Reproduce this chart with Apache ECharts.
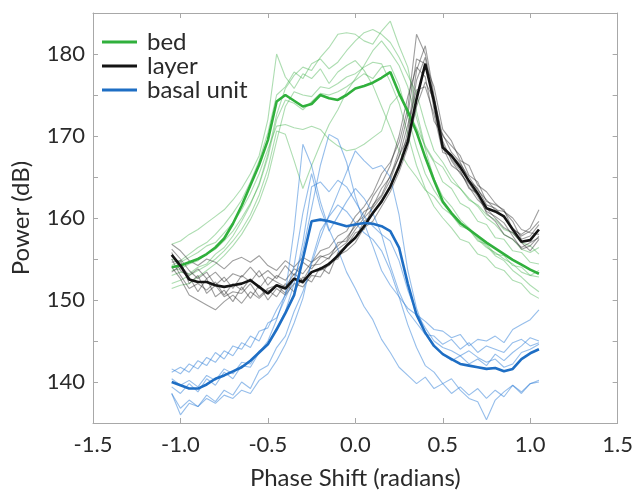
<!DOCTYPE html>
<html>
<head>
<meta charset="utf-8">
<script src="https://cdn.jsdelivr.net/npm/echarts@6/dist/echarts.min.js"></script>
<style>
html,body{margin:0;padding:0;background:#fff;}
#chart{width:636px;height:495px;}
</style>
</head>
<body>
<div id="chart"></div>
<script>
// Phase shift samples (radians)
const phase = [-1.05,-1.0,-0.95,-0.9,-0.85,-0.8,-0.75,-0.7,-0.65,-0.6,-0.55,-0.5,-0.45,-0.4,-0.35,-0.3,-0.25,-0.2,-0.15,-0.1,-0.05,0.0,0.05,0.1,0.15,0.2,0.25,0.3,0.35,0.4,0.45,0.5,0.55,0.6,0.65,0.7,0.75,0.8,0.85,0.9,0.95,1.0,1.05];

// Mean curves (dB)
const bedMean = [154.0,154.2,154.6,155.0,155.6,156.4,157.5,159.3,161.5,164.0,166.5,169.5,174.2,175.0,174.3,173.6,173.9,175.0,174.6,174.4,175.0,175.8,176.1,176.5,177.1,177.8,175.2,173.0,170.5,167.4,164.6,162.0,160.6,159.4,158.6,157.8,157.0,156.3,155.6,154.9,154.3,153.7,153.2];
const layerMean = [155.5,154.2,152.5,152.2,152.2,151.8,151.6,151.8,152.0,152.4,151.6,150.8,151.8,151.4,152.6,152.2,153.4,153.8,154.4,155.4,156.6,157.6,159.0,160.6,162.0,163.8,166.3,169.3,174.5,178.8,174.2,168.6,167.6,166.2,164.5,163.0,161.2,160.8,160.2,158.6,157.1,157.3,158.6];
const basalMean = [140.0,139.6,139.2,139.2,139.7,140.4,140.8,141.3,141.8,142.6,143.6,144.6,146.4,148.4,150.6,155.0,159.6,159.8,159.6,159.3,159.0,159.2,159.4,159.3,159.0,158.4,156.4,152.0,148.2,146.0,144.4,143.4,142.8,142.2,142.0,141.8,141.6,141.7,141.3,141.6,142.8,143.5,144.0];

// Individual bed traces
const bed1 = [156.8,157.2,158.0,158.6,159.4,160.2,161.0,162.2,163.6,165.4,167.6,172.0,180.0,177.2,175.8,177.6,177.0,178.2,176.4,177.8,178.6,179.2,178.0,176.2,173.6,171.0,168.2,166.4,165.0,163.4,162.6,161.2,160.4,159.0,158.6,157.2,156.8,155.6,155.4,154.2,154.0,153.0,152.8];
const bed2 = [153.0,153.4,153.2,154.0,154.4,155.6,156.4,157.8,159.6,161.6,164.2,167.8,172.6,175.8,177.4,178.4,178.0,179.6,180.8,182.4,182.6,182.4,181.6,181.2,182.8,184.0,181.0,178.4,173.0,168.6,166.8,164.4,163.6,161.8,161.2,159.6,159.2,157.6,157.4,156.0,155.8,154.6,154.4];
const bed3 = [155.0,154.6,155.2,155.8,156.6,157.0,158.2,159.4,161.0,163.0,165.4,168.4,171.2,171.4,171.0,170.8,171.2,170.8,169.6,168.8,168.2,168.4,169.0,169.8,170.6,173.8,175.0,173.2,171.0,168.8,167.0,166.2,164.4,163.6,162.2,161.6,160.4,159.8,158.6,158.2,157.0,156.6,155.6];
const bed4 = [152.0,152.4,153.0,153.6,154.2,155.0,156.0,157.2,158.6,160.4,162.8,166.0,170.6,170.2,167.0,163.6,166.4,169.0,171.4,173.2,175.4,177.0,178.6,180.4,181.6,180.2,178.6,176.0,172.2,168.4,164.8,162.6,161.4,159.8,158.8,157.6,156.6,155.4,154.8,153.6,152.8,151.8,151.0];
const bed5 = [151.4,151.8,152.0,152.8,153.6,154.4,155.4,156.6,158.0,159.8,162.0,165.0,169.4,173.6,175.4,175.0,174.8,176.0,175.8,176.4,177.2,177.6,178.4,179.0,178.8,176.6,174.0,170.2,166.4,163.6,161.4,160.0,158.8,157.4,157.0,155.6,155.2,154.0,153.6,152.4,152.0,150.8,150.2];
const bed6 = [154.2,154.8,155.6,156.4,157.0,158.0,159.2,160.6,162.2,164.4,167.0,170.4,175.0,176.0,177.8,177.0,178.8,179.4,178.2,179.0,180.4,181.6,182.6,183.0,182.4,181.4,179.6,177.4,175.2,171.4,168.2,166.8,165.0,163.6,162.4,161.4,160.0,159.2,158.0,157.4,156.2,155.8,156.4];
const bed7 = [153.6,153.8,154.4,154.8,155.6,156.2,157.2,158.4,160.0,161.8,164.0,167.4,172.0,174.4,174.0,173.2,174.2,175.2,175.0,175.4,176.0,176.8,177.6,177.0,178.4,178.6,176.2,172.4,168.6,165.4,163.4,161.8,160.4,159.2,158.6,157.4,156.4,155.8,155.0,154.4,153.4,153.0,153.6];

// Individual layer traces
const layer1 = [156.8,156.0,154.8,154.2,155.0,154.6,153.8,154.8,155.2,154.6,155.4,154.2,153.6,154.8,154.0,155.2,154.6,156.0,156.4,157.8,158.4,160.2,161.4,163.0,165.4,166.8,169.2,173.4,182.4,180.0,174.6,170.0,168.8,167.6,165.2,164.4,162.0,161.6,161.0,158.6,158.0,158.8,161.0];
const layer2 = [155.8,153.6,152.8,151.0,152.6,150.4,151.2,149.8,151.6,150.2,151.8,150.0,151.4,150.6,152.0,151.6,153.0,152.8,154.6,155.0,156.8,157.6,159.6,160.4,162.2,164.0,166.0,170.6,178.0,181.0,175.0,169.4,167.0,165.4,164.2,162.6,160.8,160.2,159.4,157.8,156.2,156.6,157.8];
const layer3 = [154.0,152.6,150.6,150.0,149.4,148.8,149.8,150.6,149.6,151.0,150.2,151.2,150.4,152.0,151.0,152.8,152.2,154.0,153.2,155.8,156.6,158.2,158.6,161.6,162.8,165.2,167.4,171.4,175.6,176.0,172.6,168.0,167.6,166.6,165.0,163.4,162.2,161.0,160.8,159.6,157.4,157.8,159.2];
const layer4 = [153.4,154.2,153.0,153.8,152.6,153.4,152.2,153.2,152.8,154.0,152.8,153.6,152.6,154.2,153.0,154.6,153.8,155.2,155.6,156.6,157.6,159.0,160.8,161.4,163.6,165.0,168.2,172.6,179.4,178.8,176.0,170.8,169.4,167.0,166.4,164.0,163.2,161.8,160.8,160.0,158.6,158.2,158.0];
const layer5 = [155.0,153.0,151.4,152.0,151.2,152.2,150.6,152.0,151.2,152.6,151.4,152.8,152.2,151.6,153.2,152.4,154.2,154.4,155.2,156.2,157.0,158.6,160.0,161.2,162.6,164.6,167.6,169.8,176.8,179.6,173.2,168.6,166.4,165.6,163.8,162.2,161.2,160.0,158.8,158.2,157.0,156.0,157.4];
const layer6 = [156.2,155.0,153.6,152.6,153.4,151.8,152.8,151.4,153.0,152.2,153.6,151.8,153.0,152.4,153.8,153.2,154.6,155.4,155.0,157.0,157.2,159.4,160.2,162.6,164.2,166.4,170.0,174.8,178.4,177.2,171.8,170.2,168.0,166.8,164.6,163.6,161.6,161.2,160.0,158.8,157.8,158.4,159.6];
const layer7 = [154.6,154.8,152.0,153.0,150.8,151.8,150.4,151.0,150.8,152.0,150.4,151.4,151.8,150.8,152.6,152.0,153.4,153.6,154.2,155.4,156.0,157.0,158.8,159.6,161.4,163.2,165.6,168.6,173.6,176.6,174.4,169.0,167.2,165.8,163.6,163.0,160.6,159.6,158.0,157.4,156.4,157.0,157.6];

// Individual basal unit traces
const basal1 = [141.2,141.8,141.2,142.6,142.0,143.6,142.8,144.4,144.0,145.6,145.0,147.2,147.8,150.2,152.6,156.0,161.2,166.4,170.2,169.6,166.8,162.6,159.4,156.6,153.6,151.8,150.4,149.0,148.2,147.4,146.4,146.2,145.4,145.8,144.4,145.2,145.0,145.6,144.8,146.4,147.0,147.6,148.8];
const basal2 = [139.4,138.6,139.8,138.8,140.4,139.6,141.2,140.4,142.0,141.8,143.6,145.0,147.6,150.8,158.6,169.0,166.4,162.0,158.6,156.2,153.4,151.4,149.2,147.6,145.2,143.6,141.8,140.8,139.8,140.6,139.2,139.8,138.6,139.4,138.4,139.2,138.0,139.0,138.2,139.6,138.8,139.8,140.2];
const basal3 = [138.6,136.8,137.8,137.0,138.4,137.6,139.0,138.4,140.0,139.2,141.4,142.0,144.2,145.6,148.6,151.0,154.4,157.6,160.4,163.0,165.6,168.2,167.0,166.0,166.4,165.0,160.4,153.6,149.0,146.0,144.4,143.4,142.6,143.2,142.2,142.8,142.0,143.4,142.6,143.6,144.4,145.4,145.0];
const basal4 = [140.4,139.6,140.2,139.4,140.8,140.2,141.6,141.0,142.4,142.2,143.8,144.6,146.6,148.6,152.0,157.0,163.8,164.4,163.2,164.6,163.8,162.0,160.2,159.0,158.0,157.2,154.8,151.2,148.4,146.6,145.0,144.2,143.8,143.2,143.8,143.0,142.4,142.8,141.8,142.2,143.6,144.0,144.6];
const basal5 = [138.6,136.0,137.4,137.0,138.0,137.4,138.4,138.0,139.0,138.6,140.2,141.0,142.6,144.6,147.2,150.2,154.8,158.4,160.2,161.6,160.8,159.4,158.2,157.4,156.0,153.6,150.4,147.0,144.2,142.0,141.2,139.8,140.4,139.0,138.0,137.6,135.4,137.8,138.8,139.6,138.6,139.8,140.0];
const basal6 = [141.6,141.0,142.2,141.6,143.0,142.4,143.8,143.2,144.8,144.2,146.2,146.6,148.8,150.6,154.2,160.6,165.4,161.2,158.4,160.2,162.0,163.6,162.4,160.6,158.0,154.2,151.0,148.6,147.2,145.8,145.6,144.6,145.2,144.0,144.8,143.6,144.4,144.0,143.6,144.8,145.2,144.4,144.8];

const xTicks = [-1.5,-1.0,-0.5,0.0,0.5,1.0,1.5];
const yTickLabels = [140,150,160,170,180];

const C = {
  bed: '#30b03c', bedThin: 'rgba(60,175,70,0.42)',
  layer: '#141414', layerThin: 'rgba(40,40,40,0.45)',
  basal: '#1e6ec4', basalThin: 'rgba(45,125,215,0.5)'
};
const FONT = 'Lato';

function pts(ys){ return phase.map((x,i)=>[x, ys[i]]); }
function thin(ys, color){
  return {type:'line', data:pts(ys), showSymbol:false, silent:true, animation:false,
    lineStyle:{color:color, width:1.1}, itemStyle:{color:color}, z:2};
}
function thick(name, ys, color){
  return {name:name, type:'line', data:pts(ys), showSymbol:false, silent:true, animation:false,
    lineStyle:{color:color, width:2.6}, itemStyle:{color:color}, z:5};
}

const series = [];
[bed1,bed2,bed3,bed4,bed5,bed6,bed7].forEach(s=>series.push(thin(s,C.bedThin)));
[layer1,layer2,layer3,layer4,layer5,layer6,layer7].forEach(s=>series.push(thin(s,C.layerThin)));
[basal1,basal2,basal3,basal4,basal5,basal6].forEach(s=>series.push(thin(s,C.basalThin)));
series.push(thick('bed', bedMean, C.bed));
series.push(thick('layer', layerMean, C.layer));
series.push(thick('basal unit', basalMean, C.basal));

const axisLineStyle = {color:'#a8a8a8', width:1};
const labelStyle = {fontFamily:FONT, fontSize:22, color:'#2a2a2a'};
const nameStyle = {fontFamily:FONT, fontSize:24, color:'#2a2a2a'};

const chart = echarts.init(document.getElementById('chart'), null, {renderer:'canvas'});
chart.setOption({
  animation:false,
  backgroundColor:'#ffffff',
  grid:{left:93, right:14, top:13, bottom:67, containLabel:false},
  legend:{
    data:['bed','layer','basal unit'],
    orient:'vertical', left:102, top:30, padding:0,
    icon:'rect', itemWidth:35, itemHeight:3, itemGap:0,
    textStyle:{fontFamily:FONT, fontSize:24, color:'#2a2a2a', padding:[0,0,0,5], lineHeight:23},
    selectedMode:false
  },
  xAxis:[
    {type:'value', position:'bottom', min:xTicks[0], max:xTicks[xTicks.length-1], interval:0.5,
     axisLine:{show:true, onZero:false, lineStyle:axisLineStyle},
     axisTick:{show:true, inside:true, length:5, lineStyle:axisLineStyle},
     axisLabel:Object.assign({margin:11, formatter:v=>v.toFixed(1)}, labelStyle),
     splitLine:{show:false},
     name:'Phase Shift (radians)', nameLocation:'middle', nameGap:43,
     nameTextStyle:nameStyle},
    {type:'value', position:'top', min:xTicks[0], max:xTicks[xTicks.length-1], interval:0.5,
     axisLine:{show:true, onZero:false, lineStyle:axisLineStyle},
     axisTick:{show:true, inside:true, length:5, lineStyle:axisLineStyle},
     axisLabel:{show:false}, splitLine:{show:false}}
  ],
  yAxis:[
    {type:'value', position:'left', min:135, max:185, interval:5,
     axisLine:{show:true, onZero:false, lineStyle:axisLineStyle},
     axisTick:{show:true, inside:true, length:5, lineStyle:axisLineStyle},
     axisLabel:Object.assign({margin:8, formatter:v=> yTickLabels.indexOf(v)>=0 ? String(v) : ''}, labelStyle),
     splitLine:{show:false},
     name:'Power (dB)', nameLocation:'middle', nameGap:60,
     nameTextStyle:nameStyle},
    {type:'value', position:'right', min:135, max:185, interval:5,
     axisLine:{show:true, onZero:false, lineStyle:axisLineStyle},
     axisTick:{show:true, inside:true, length:5, lineStyle:axisLineStyle},
     axisLabel:{show:false}, splitLine:{show:false}}
  ],
  series: series
});
</script>
</body>
</html>
